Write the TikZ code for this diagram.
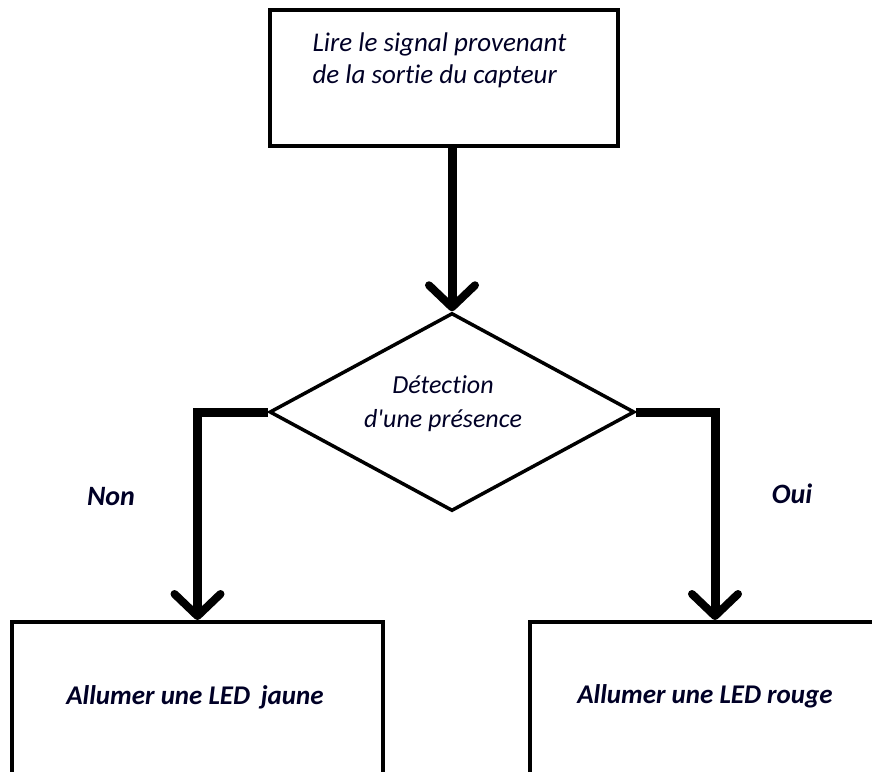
\documentclass[tikz,border=0pt]{standalone}
\usepackage{fontspec}
\setmainfont{Carlito}[Ligatures=CommonOff]
\usetikzlibrary{shapes.geometric,arrows.meta}
\begin{document}
\begin{tikzpicture}[x=1pt,y=-1pt,
  box/.style={draw=black,line width=4.5pt,minimum width=#1,inner sep=0pt},
  conn/.style={line width=9pt,-{Straight Barb[length=22pt,width=46pt,line width=8pt,round]}},
  txt/.style={font=\fontsize{27}{32}\selectfont\itshape,text=black!85!blue,align=left},
  btxt/.style={font=\fontsize{27}{32}\selectfont\bfseries\itshape,text=black!85!blue},
  lbl/.style={font=\fontsize{28}{32}\selectfont\bfseries\itshape,text=black!85!blue}]
\useasboundingbox (0,0) rectangle (872,771);
\clip (0,0) rectangle (872,771);
\fill[white] (0,0) rectangle (872,771);
% top box
\node[box=348pt,minimum height=136pt] (top) at (444,78) {};
\node[txt,anchor=west] (toptxt) at (309,60) {Lire le signal provenant\\de la sortie du capteur};
% diamond
\node[draw,diamond,line width=3.5pt,minimum width=365pt,minimum height=198pt,inner sep=0pt,aspect=1.8] (dia) at (452,412) {};
\node[txt,align=center,font=\fontsize{26}{34}\selectfont\itshape] (diatxt) at (443,404) {Détection\\d\textquotesingle une présence};
% bottom boxes
\node[box=371pt,minimum height=200pt,line width=4pt] (left) at (197.5,722) {};
\node[box=370pt,minimum height=200pt,line width=4pt] (right) at (715,722) {};
\node[btxt] (lefttxt) at (195,697) {Allumer une LED\, jaune};
\node[btxt] (righttxt) at (705,696) {Allumer une LED rouge};
% connectors
\draw[conn] (dia.north |- top.south) -- (dia.north);
\draw[conn] (dia.west) -| (left.north);
\draw[conn] (dia.east) -| (right.north);
% labels
\node[lbl] (non) at (111,497) {Non};
\node[lbl] (oui) at (792,494) {Oui};
\end{tikzpicture}
\end{document}
